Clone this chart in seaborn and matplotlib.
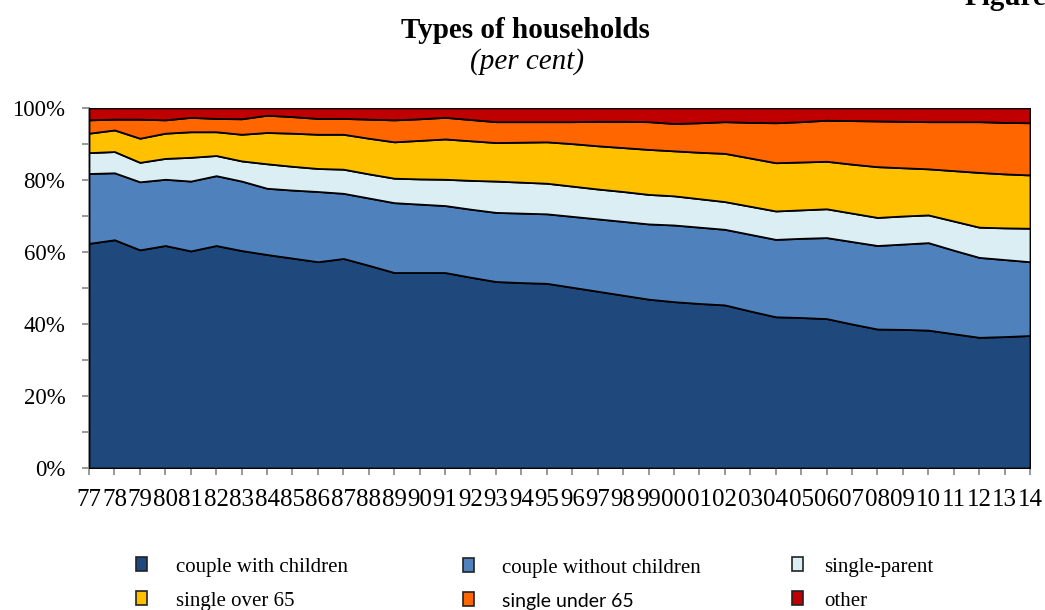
"""
Types of households (per cent) - stacked area chart
"""

import matplotlib
matplotlib.use('Agg')
import matplotlib.pyplot as plt
from matplotlib.patches import Patch
import seaborn as sns

# Year labels (1977-2014)
years = ['77', '78', '79', '80', '81', '82', '83', '84', '85', '86',
         '87', '88', '89', '90', '91', '92', '93', '94', '95', '96',
         '97', '98', '99', '00', '01', '02', '03', '04', '05', '06',
         '07', '08', '09', '10', '11', '12', '13', '14']

# Shares in per cent
couple_with_children = [62.4, 63.4, 60.6, 61.8, 60.3, 61.8, 60.4, 59.3, 58.3, 57.3,
                        58.2, 56.3, 54.3, 54.3, 54.3, 53.0, 51.8, 51.5, 51.3, 50.2,
                        49.1, 48.0, 46.9, 46.2, 45.7, 45.3, 43.6, 42.0, 41.8, 41.5,
                        40.0, 38.6, 38.5, 38.3, 37.3, 36.3, 36.5, 36.8]
couple_without_children = [19.4, 18.6, 18.9, 18.4, 19.4, 19.4, 19.3, 18.4, 18.9, 19.5,
                           18.1, 18.7, 19.4, 19.0, 18.6, 18.9, 19.2, 19.3, 19.3, 19.7,
                           20.1, 20.5, 20.9, 21.3, 21.2, 21.0, 21.3, 21.5, 22.0, 22.5,
                           22.9, 23.2, 23.7, 24.3, 23.2, 22.2, 21.4, 20.5]
single_parent = [5.8, 5.9, 5.4, 5.8, 6.6, 5.6, 5.6, 6.8, 6.6, 6.4,
                 6.7, 6.7, 6.8, 7.0, 7.3, 8.0, 8.7, 8.6, 8.5, 8.4,
                 8.3, 8.3, 8.2, 8.1, 7.9, 7.7, 7.8, 7.9, 7.9, 8.0,
                 7.9, 7.8, 7.8, 7.7, 8.1, 8.4, 8.8, 9.3]
single_over_65 = [5.4, 6.0, 6.7, 7.0, 7.1, 6.6, 7.4, 8.7, 9.2, 9.5,
                  9.7, 9.9, 10.1, 10.7, 11.2, 11.0, 10.7, 11.1, 11.5, 11.8,
                  12.0, 12.2, 12.5, 12.5, 12.9, 13.4, 13.4, 13.4, 13.3, 13.2,
                  13.6, 14.1, 13.4, 12.8, 14.0, 15.2, 15.0, 14.8]
single_under_65 = [3.7, 3.0, 5.3, 3.7, 4.0, 3.7, 4.3, 4.8, 4.6, 4.4,
                   4.4, 5.3, 6.1, 6.0, 6.0, 5.9, 5.8, 5.7, 5.6, 6.1,
                   6.8, 7.3, 7.7, 7.6, 8.2, 8.8, 9.9, 11.1, 11.2, 11.4,
                   12.1, 12.7, 12.9, 13.1, 13.6, 14.1, 14.3, 14.5]
other = [3.3, 3.1, 3.1, 3.3, 2.6, 2.9, 3.0, 2.0, 2.4, 2.9,
         2.9, 3.1, 3.3, 3.0, 2.6, 3.2, 3.8, 3.8, 3.8, 3.8,
         3.7, 3.7, 3.8, 4.3, 4.1, 3.8, 4.0, 4.1, 3.8, 3.4,
         3.5, 3.6, 3.7, 3.8, 3.8, 3.8, 4.0, 4.1]

series_names = ['couple with children', 'couple without children', 'single-parent',
                'single over 65', 'single under 65', 'other']
colors = ['#1F497D', '#4F81BD', '#DAEEF3', '#FFC000', '#FF6600', '#C00000']

sns.set_theme(style='ticks')
plt.rcParams['font.family'] = ['Liberation Serif', 'DejaVu Serif']
plt.rcParams['text.color'] = 'black'

fig = plt.figure(figsize=(10.45, 6.1), dpi=100)
ax = fig.add_axes([89 / 1045, 142 / 610, 941 / 1045, 360 / 610])

x = list(range(len(years)))
ax.stackplot(x, couple_with_children, couple_without_children, single_parent,
             single_over_65, single_under_65, other,
             colors=colors, edgecolor='black', linewidth=1.3)

ax.set_xlim(0, len(years) - 1)
ax.set_ylim(0, 100)
ax.set_xticks(x)
ax.set_xticklabels(years, fontsize=18)
ax.set_yticks(range(0, 101, 20))
ax.set_yticklabels([f'{v}%' for v in range(0, 101, 20)], fontsize=16.5)
ax.set_yticks(range(10, 100, 20), minor=True)

axis_grey = '#868686'
for side in ['top', 'right']:
    ax.spines[side].set_visible(False)
for side in ['left', 'bottom']:
    ax.spines[side].set_color(axis_grey)
    ax.spines[side].set_linewidth(1.3)
    ax.spines[side].set_zorder(0.5)
ax.tick_params(axis='both', which='both', length=5, width=1.2, color=axis_grey,
               labelcolor='black')
ax.tick_params(axis='x', pad=10)
ax.tick_params(axis='y', pad=12)

# Titles
fig.text(0.503, 1 - 31 / 610, 'Types of households', ha='center', va='center',
         fontsize=21, fontweight='bold')
fig.text(0.504, 1 - 62 / 610, '(per cent)', ha='center', va='center',
         fontsize=21, fontstyle='italic')
fig.text(965 / 1045, 1 - 5 / 610, 'Figure', ha='left', va='baseline',
         fontsize=21, fontweight='bold')

# Legend, one block per column
handles = [Patch(facecolor=c, edgecolor='#222222', linewidth=1.2) for c in colors]
columns = [(0, 3, 136, 1.35), (1, 4, 463, 1.3), (2, 5, 792, 1.0)]
for top_i, bot_i, xpix, pad in columns:
    leg = fig.legend([handles[top_i], handles[bot_i]],
                     [series_names[top_i], series_names[bot_i]],
                     loc='center left', bbox_to_anchor=(xpix / 1045, 1 - 584 / 610),
                     frameon=False, fontsize=15, handlelength=0.55, handleheight=0.65,
                     handletextpad=pad, labelspacing=0.7, borderpad=0, borderaxespad=0)
    if bot_i == 4:
        leg.get_texts()[1].set_fontfamily('Lato')
        leg.get_texts()[1].set_fontsize(14)

fig.savefig('out.png', dpi=100)
plt.close(fig)
